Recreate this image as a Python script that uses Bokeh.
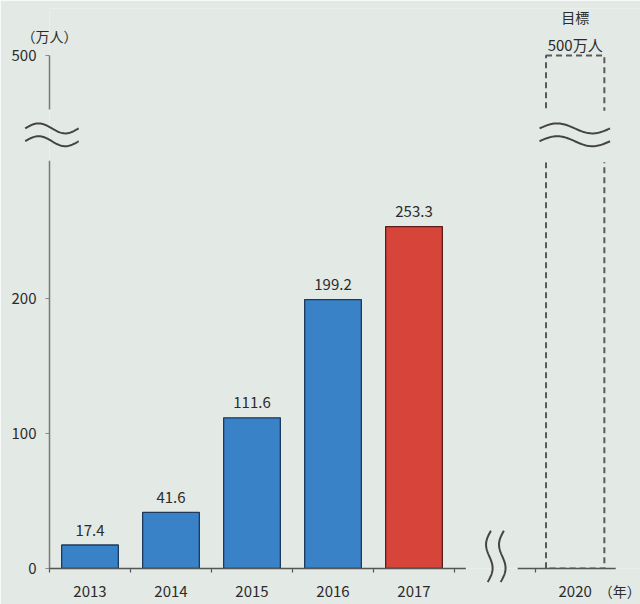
import numpy as np
from bokeh.plotting import figure
from bokeh.models import Range1d, FixedTicker
from bokeh.core.properties import value
from bokeh.embed import file_html
from bokeh.resources import INLINE

# ---------------- data ----------------
years = ["2013", "2014", "2015", "2016", "2017"]
visitors = [17.4, 41.6, 111.6, 199.2, 253.3]          # 万人
bar_kind = ["past", "past", "past", "past", "latest"]
target_year = "2020"
target_value = 500
target_title = "目標"
target_text = "500万人"
y_ticks = [0, 100, 200, 500]
unit_label = "（万人）"
year_label = "（年）"

# ---------------- broken y scale ----------------
BREAK_LO, BREAK_HI, BREAK_GAP = 300, 460, 40


def to_display(v):
    return v if v <= BREAK_LO else v - (BREAK_HI - BREAK_LO) + BREAK_GAP


BG = "#e3e9e5"
BLUE, BLUE_EDGE = "#3a82c8", "#1d3a5c"
RED, RED_EDGE = "#d6443a", "#5c1e18"
TXT = "#2b2b2b"
FONT = "Noto Sans CJK JP"
FS = "14px"
FS_NUM = "15px"

PX_PER_CAT = 81.0
PX_PER_UNIT = 1.35
FRAME_W, FRAME_H = 591, 560

x_centers = [i + 0.5 for i in range(len(years))]
target_x = 6.49

p = figure(width=640, height=604,
           x_range=Range1d(0, FRAME_W / PX_PER_CAT),
           y_range=Range1d(0, FRAME_H / PX_PER_UNIT),
           output_backend="svg", toolbar_location=None,
           min_border_left=49, min_border_right=0, min_border_top=8,
           min_border_bottom=36,
           background_fill_color=BG, border_fill_color=BG,
           outline_line_color=None)
p.grid.visible = False

# bars
fills = [BLUE if k == "past" else RED for k in bar_kind]
edges = [BLUE_EDGE if k == "past" else RED_EDGE for k in bar_kind]
p.vbar(x=x_centers, top=visitors, bottom=0, width=0.7,
       fill_color=fills, line_color=edges, line_width=1.3)

# target (dashed) bar
p.vbar(x=[target_x], top=[to_display(target_value)], bottom=0, width=0.72,
       fill_alpha=0, line_color="#5a5a5a", line_width=2, line_dash="6 4")

# break band cover
p.quad(left=[5.3], right=[FRAME_W / PX_PER_CAT], bottom=[to_display(BREAK_LO) + 1],
       top=[to_display(BREAK_HI) - 1], fill_color=BG, line_color=None)

# value labels
p.text(x=x_centers, y=visitors, text=[f"{v:.1f}" for v in visitors],
       text_align="center", text_baseline="middle", y_offset=-15,
       text_font=value(FONT), text_font_size=FS_NUM, text_color=TXT)
p.text(x=[target_x], y=[to_display(target_value)], text=[target_text],
       text_align="center", text_baseline="middle", y_offset=-11,
       text_font=value(FONT), text_font_size=FS_NUM, text_color=TXT)
p.text(x=[target_x], y=[to_display(target_value)], text=[target_title],
       text_align="center", text_baseline="middle", y_offset=-39,
       text_font=value(FONT), text_font_size=FS, text_color=TXT)

# axis lines (broken)
p.segment(x0=[0, 0], x1=[0, 0],
          y0=[to_display(0), to_display(BREAK_HI)],
          y1=[to_display(BREAK_LO) + 2, to_display(target_value)],
          line_color="#7a7a7a", line_width=1.5, level="overlay")
p.segment(x0=[0, 5.78], x1=[5.14, 6.99], y0=[0, 0], y1=[0, 0],
          line_color="#555555", line_width=1.5, level="overlay")

# break squiggles (y axis break, left and right)
t = np.linspace(0, 1, 60)
amp = 5 / PX_PER_UNIT
for yc in (326.0, 316.5):
    for x0, x1 in ((-0.30, 0.36), (6.05, 6.92)):
        p.line(x=x0 + t * (x1 - x0), y=yc + amp * np.sin(2 * np.pi * t),
               line_color="#444444", line_width=2, level="overlay")

# x axis break squiggles (vertical)
s = np.linspace(0, 1, 60)
for xc in (5.41, 5.57):
    ys = 28 - s * 38
    xs = xc + 0.04 * (1 - s) - 0.05 * np.sin(2 * np.pi * s)
    p.line(x=xs, y=ys, line_color="#444444", line_width=2, level="overlay")

# axis captions
p.text(x=[0], y=[to_display(target_value)], text=[unit_label],
       text_align="center", text_baseline="middle", y_offset=-20,
       text_font=value(FONT), text_font_size=FS, text_color=TXT, level="overlay")
p.text(x=[7.04], y=[0], text=[year_label],
       text_align="center", text_baseline="middle", y_offset=22,
       text_font=value(FONT), text_font_size=FS, text_color=TXT, level="overlay")

# x axis
xt = x_centers + [target_x]
p.xaxis.ticker = FixedTicker(ticks=xt, minor_ticks=list(range(7)))
p.xaxis.major_label_overrides = {x: lab for x, lab in zip(xt, years + [target_year])}
p.xaxis.axis_line_color = None
p.xaxis.major_tick_line_color = None
p.xaxis.major_tick_out = 0
p.xaxis.major_tick_in = 0
p.xaxis.minor_tick_out = 4
p.xaxis.minor_tick_in = 0
p.xaxis.minor_tick_line_color = "#555555"
p.xaxis.minor_tick_line_width = 1.2
p.xaxis.major_label_standoff = 13
p.xaxis.major_label_text_font = FONT
p.xaxis.major_label_text_font_size = FS_NUM
p.xaxis.major_label_text_color = TXT

# y axis
yt = [to_display(v) for v in y_ticks]
p.yaxis.ticker = FixedTicker(ticks=yt, minor_ticks=[])
p.yaxis.major_label_overrides = {d: str(v) for d, v in zip(yt, y_ticks)}
p.yaxis.axis_line_color = None
p.yaxis.major_tick_out = 4
p.yaxis.major_tick_in = 0
p.yaxis.major_tick_line_color = "#8a8a8a"
p.yaxis.minor_tick_line_color = None
p.yaxis.major_label_standoff = 9
p.yaxis.major_label_text_font = FONT
p.yaxis.major_label_text_font_size = FS_NUM
p.yaxis.major_label_text_color = TXT

open("out.html", "w").write(file_html(p, INLINE))
